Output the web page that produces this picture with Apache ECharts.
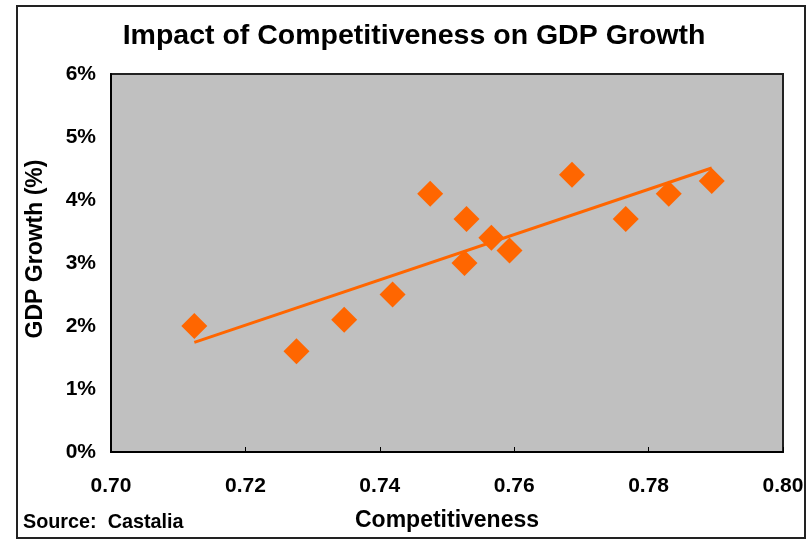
<!DOCTYPE html>
<html>
<head>
<meta charset="utf-8">
<script src="https://cdn.jsdelivr.net/npm/echarts@6/dist/echarts.min.js"></script>
<style>
  html, body { margin: 0; padding: 0; background: #ffffff; }
  #chart { width: 808px; height: 541px; }
</style>
</head>
<body>
<div id="chart"></div>
<script>
// Competitiveness index and GDP growth (%) per country
const competitiveness = [0.7124, 0.7276, 0.7347, 0.7419, 0.7475, 0.7529, 0.7526, 0.7566, 0.7593, 0.7686, 0.7766, 0.7830, 0.7894];
const gdpGrowth = [2.0, 1.6, 2.1, 2.5, 4.1, 3.7, 3.0, 3.4, 3.2, 4.4, 3.7, 4.1, 4.3];

const xTicks = { min: 0.70, max: 0.80, step: 0.02 };
const yTicks = { min: 0, max: 6, step: 1 };

const titleText = 'Impact of Competitiveness on GDP Growth';
const xName = 'Competitiveness';
const yName = 'GDP Growth (%)';
const sourceText = 'Source:  Castalia';

// Least-squares linear trend across the observed range
function linearTrend(xs, ys) {
  const n = xs.length;
  const mx = xs.reduce((a, b) => a + b, 0) / n;
  const my = ys.reduce((a, b) => a + b, 0) / n;
  let sxy = 0, sxx = 0;
  for (let i = 0; i < n; i++) {
    sxy += (xs[i] - mx) * (ys[i] - my);
    sxx += (xs[i] - mx) * (xs[i] - mx);
  }
  const slope = sxy / sxx;
  const x0 = Math.min(...xs), x1 = Math.max(...xs);
  return [[x0, my + slope * (x0 - mx)], [x1, my + slope * (x1 - mx)]];
}

const points = competitiveness.map((c, i) => [c, gdpGrowth[i]]);
const trend = linearTrend(competitiveness, gdpGrowth);

const FONT = '"Liberation Sans", Arial, sans-serif';
const ORANGE = '#FF6600';

const chart = echarts.init(document.getElementById('chart'));
chart.setOption({
  backgroundColor: '#ffffff',
  animation: false,
  title: {
    text: titleText,
    left: 409,
    top: 17,
    textAlign: 'center',
    textStyle: { fontFamily: FONT, fontWeight: 'bold', fontSize: 28.5, color: '#000' }
  },
  grid: {
    left: 111, right: 25, top: 74, bottom: 89,
    containLabel: false,
    show: true,
    backgroundColor: '#C0C0C0',
    borderColor: '#222',
    borderWidth: 2
  },
  xAxis: {
    type: 'value',
    min: xTicks.min, max: xTicks.max, interval: xTicks.step,
    name: xName,
    nameLocation: 'middle',
    nameGap: 57,
    nameTextStyle: { fontFamily: FONT, fontWeight: 'bold', fontSize: 23, color: '#000' },
    axisLine: { show: true, lineStyle: { color: '#000', width: 2 } },
    axisTick: { show: true, inside: true, length: 5, lineStyle: { color: '#000', width: 1 } },
    splitLine: { show: false },
    axisLabel: {
      margin: 24,
      formatter: v => v.toFixed(2),
      fontFamily: FONT, fontWeight: 'bold', fontSize: 21, color: '#000'
    }
  },
  yAxis: {
    type: 'value',
    min: yTicks.min, max: yTicks.max, interval: yTicks.step,
    name: yName,
    nameLocation: 'middle',
    nameGap: 64,
    nameRotate: 90,
    nameTextStyle: {
      fontFamily: FONT, fontWeight: 'bold', fontSize: 23, color: '#000',
      // nudges the rotated title a little above the axis midpoint
      padding: [0, 0, 0, 28]
    },
    axisLine: { show: true, lineStyle: { color: '#000', width: 2 } },
    axisTick: { show: false },
    splitLine: { show: false },
    axisLabel: {
      margin: 15,
      formatter: '{value}%',
      fontFamily: FONT, fontWeight: 'bold', fontSize: 21, color: '#000'
    }
  },
  graphic: [
    {
      type: 'rect',
      shape: { x: 17, y: 6, width: 788, height: 532 },
      style: { fill: 'none', stroke: '#222', lineWidth: 2 },
      silent: true
    },
    {
      type: 'text',
      x: 23, y: 523,
      style: {
        text: sourceText,
        font: 'bold 19.8px ' + FONT,
        fill: '#000',
        textAlign: 'left',
        textVerticalAlign: 'middle'
      }
    }
  ],
  series: [
    {
      type: 'line',
      data: trend,
      symbol: 'none',
      lineStyle: { color: ORANGE, width: 3 },
      z: 3
    },
    {
      type: 'scatter',
      data: points,
      symbol: 'diamond',
      symbolSize: 26,
      itemStyle: { color: ORANGE, opacity: 1 },
      z: 2
    }
  ]
});
</script>
</body>
</html>
